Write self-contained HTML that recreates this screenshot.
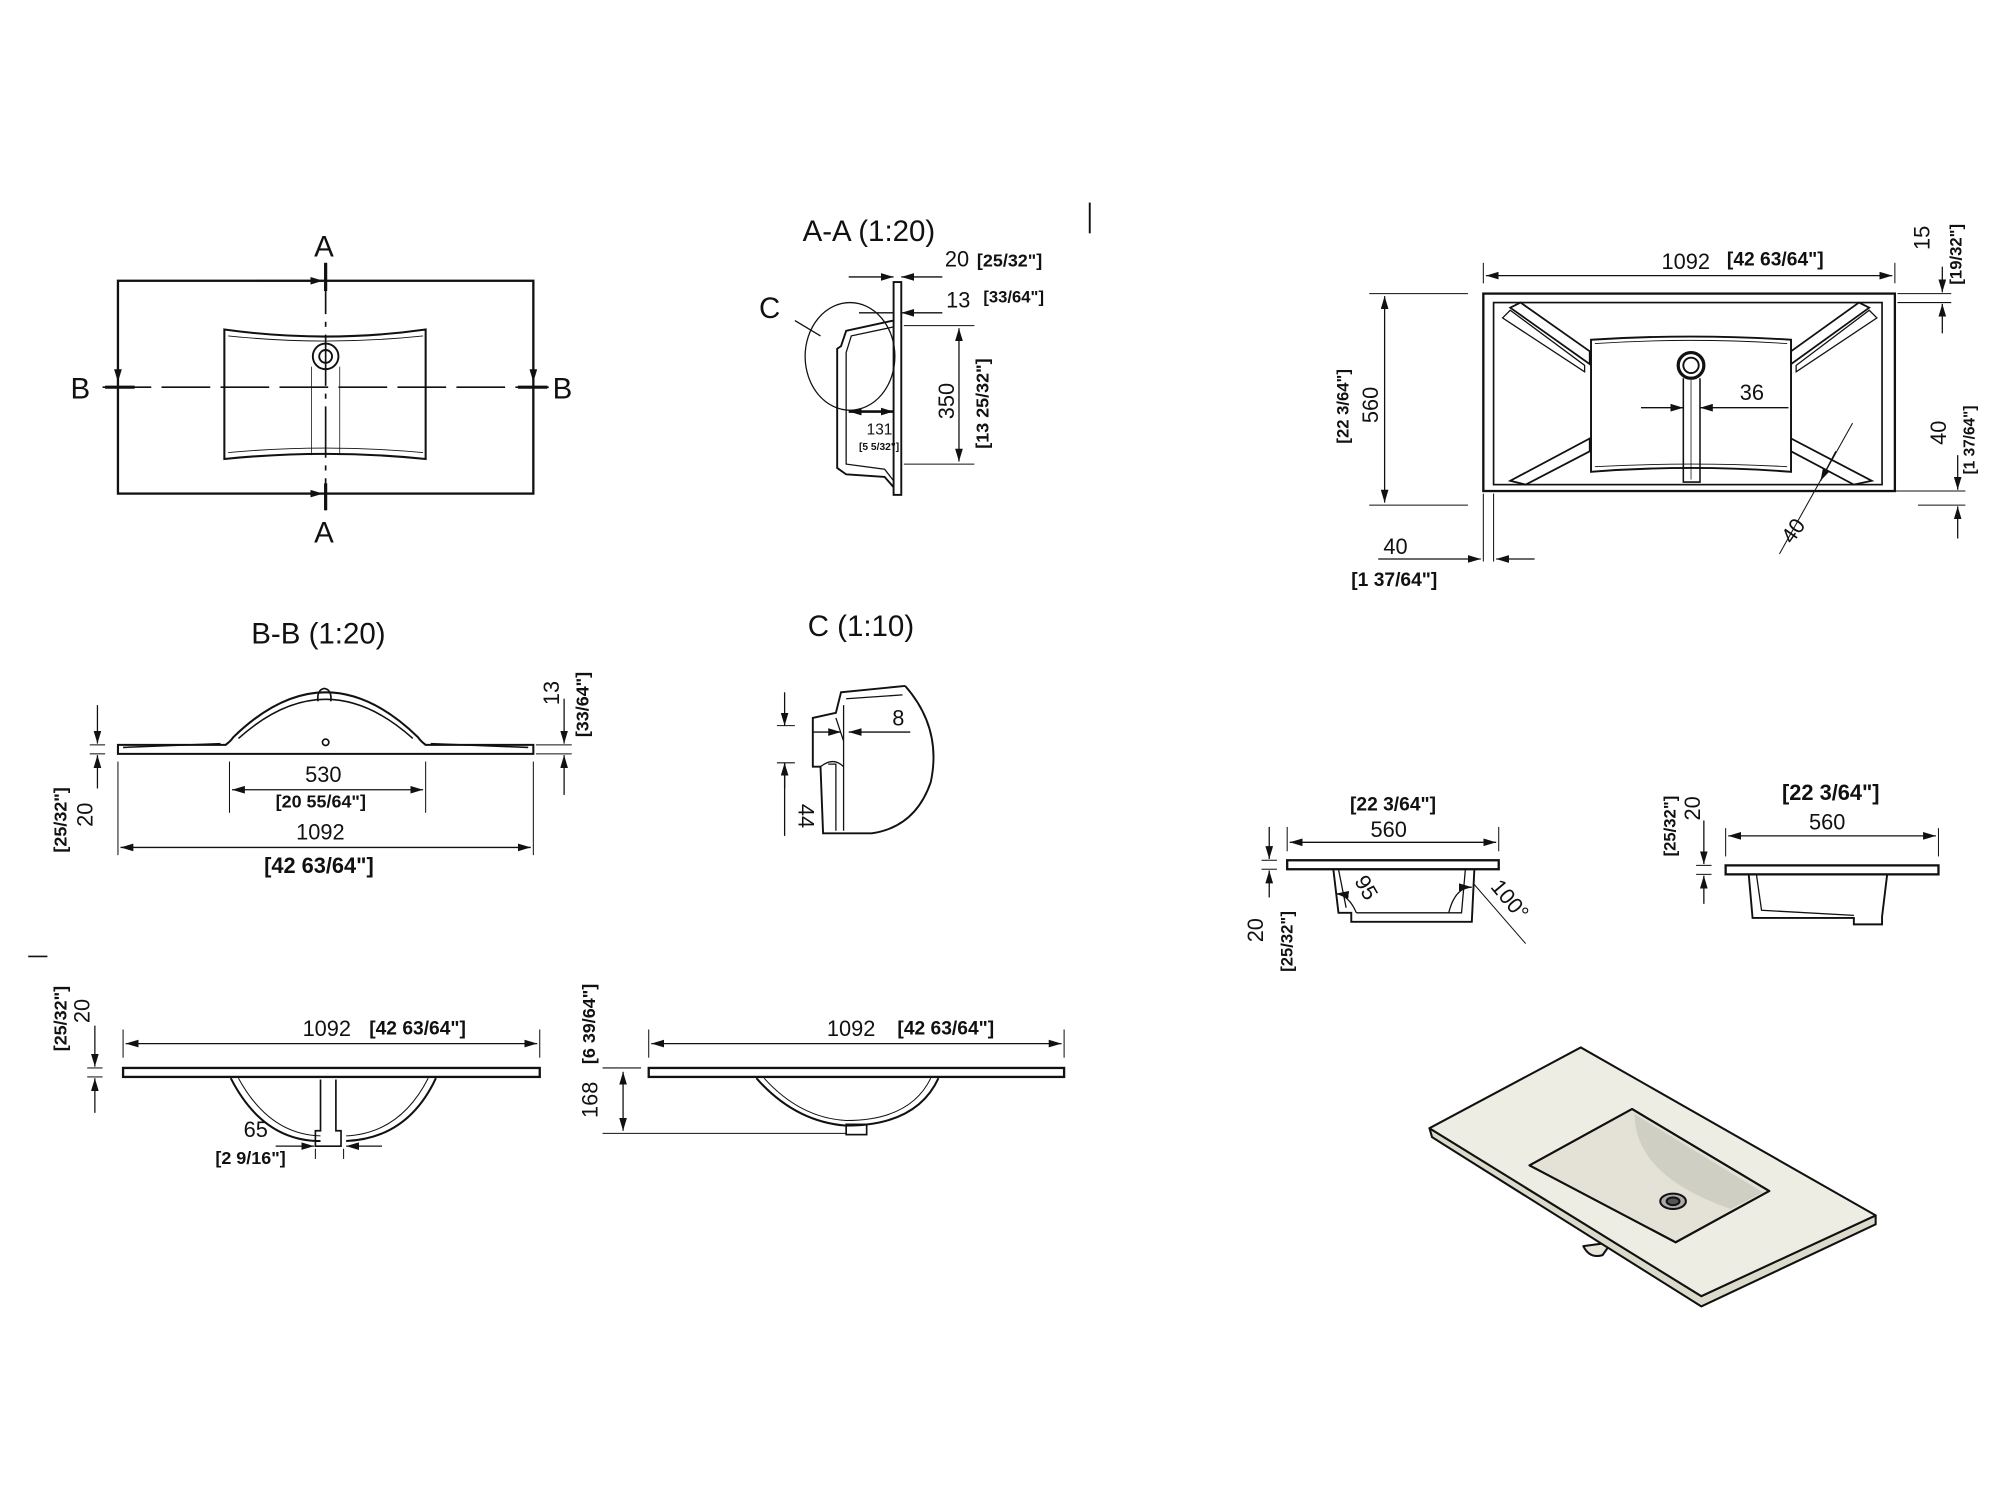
<!DOCTYPE html>
<html><head><meta charset="utf-8"><style>
html,body{margin:0;padding:0;background:#fff;}
svg{display:block}
text{font-family:"Liberation Sans",sans-serif;fill:#111}
.b{font-weight:bold}
</style></head><body>
<svg width="2000" height="1500" viewBox="0 0 1560 1170" xmlns="http://www.w3.org/2000/svg">
<defs>
<marker id="a" viewBox="0 0 10 6" refX="10" refY="3" markerWidth="10" markerHeight="6" orient="auto-start-reverse" markerUnits="userSpaceOnUse"><path d="M0,0L10,3L0,6z" fill="#111"/></marker>
</defs>
<g stroke="#111" fill="none" stroke-width="1.3">

<!-- TOP-LEFT PLAN -->
<rect x="92" y="219" width="324" height="166" stroke-width="1.8"/>
<path d="M175,257 Q254,268 332,257 L332,358 Q254,350 175,358 Z" stroke-width="1.6"/>
<path d="M178,262 Q254,270 330,262 M178,353 Q254,346 330,353" stroke-width="0.7"/>
<line x1="243" y1="286" x2="243" y2="355" stroke-width="0.6"/><line x1="265" y1="286" x2="265" y2="355" stroke-width="0.6"/>
<circle cx="254" cy="278" r="10" stroke-width="1.5"/><circle cx="254" cy="278" r="5" stroke-width="1.5"/>
<line x1="254" y1="205" x2="254" y2="398" stroke-dasharray="40,6,4,6"/>
<line x1="80" y1="302" x2="428" y2="302" stroke-dasharray="38,8"/>
<line x1="82" y1="302" x2="105" y2="302" stroke-width="2.5"/><line x1="404" y1="302" x2="427" y2="302" stroke-width="2.5"/>
<line x1="254" y1="205" x2="254" y2="227" stroke-width="2.5"/><line x1="254" y1="377" x2="254" y2="398" stroke-width="2.5"/>
<line x1="92" y1="219" x2="92" y2="298" marker-end="url(#a)"/>
<line x1="416" y1="219" x2="416" y2="298" marker-end="url(#a)"/>
<line x1="200" y1="219" x2="252" y2="219" marker-end="url(#a)"/>
<line x1="200" y1="385" x2="252" y2="385" marker-end="url(#a)"/>

<!-- A-A SECTION -->
<rect x="697" y="220" width="6" height="166" stroke-width="1.5"/>
<path d="M697,250 L660,258 L656,270 L653,272 L653,365 L660,370 L690,372 L697,380" stroke-width="1.5"/>
<path d="M697,255 L664,262 L660,275 L660,362 L690,366 L697,375" stroke-width="1"/>
<ellipse cx="663" cy="278" rx="35" ry="42" stroke-width="1"/>
<line x1="620" y1="250" x2="640" y2="262" stroke-width="1"/>
<line x1="662" y1="216" x2="697" y2="216" marker-end="url(#a)" stroke-width="1"/>
<line x1="735" y1="216" x2="703" y2="216" marker-end="url(#a)" stroke-width="1"/>
<line x1="670" y1="244" x2="697" y2="244" stroke-width="1"/>
<line x1="735" y1="244" x2="703" y2="244" marker-end="url(#a)" stroke-width="1"/>
<line x1="705" y1="254" x2="760" y2="254" stroke-width="0.8"/><line x1="705" y1="362" x2="760" y2="362" stroke-width="0.8"/>
<line x1="748" y1="256" x2="748" y2="360" marker-start="url(#a)" marker-end="url(#a)" stroke-width="1"/>
<line x1="662" y1="321" x2="697" y2="321" marker-start="url(#a)" marker-end="url(#a)" stroke-width="2"/>
<line x1="850" y1="158" x2="850" y2="182" stroke-width="1.5"/>

<!-- B-B SECTION -->
<path d="M92,581 L176,581 Q180,578 182,575 Q254,505 326,575 Q328,578 332,581 L416,581 L416,588 L92,588 Z" stroke-width="1.6"/>
<path d="M96,583 L172,580 M186,576 Q254,515 322,576 M336,580 L412,583" stroke-width="1.2"/>
<path d="M248,547 Q247,538 253,537 Q259,538 258,547" stroke-width="1.3"/>
<circle cx="254" cy="579" r="2.5"/>
<line x1="179" y1="594" x2="179" y2="634" stroke-width="0.8"/><line x1="332" y1="594" x2="332" y2="634" stroke-width="0.8"/>
<line x1="181" y1="616" x2="330" y2="616" marker-start="url(#a)" marker-end="url(#a)" stroke-width="1"/>
<line x1="92" y1="594" x2="92" y2="667" stroke-width="0.8"/><line x1="416" y1="594" x2="416" y2="667" stroke-width="0.8"/>
<line x1="94" y1="661" x2="414" y2="661" marker-start="url(#a)" marker-end="url(#a)" stroke-width="1"/>
<line x1="76" y1="550" x2="76" y2="580" marker-end="url(#a)" stroke-width="1"/>
<line x1="76" y1="615" x2="76" y2="589" marker-end="url(#a)" stroke-width="1"/>
<line x1="70" y1="581" x2="82" y2="581" stroke-width="0.8"/><line x1="70" y1="588" x2="82" y2="588" stroke-width="0.8"/>
<line x1="440" y1="545" x2="440" y2="580" marker-end="url(#a)" stroke-width="1"/>
<line x1="440" y1="620" x2="440" y2="589" marker-end="url(#a)" stroke-width="1"/>
<line x1="418" y1="581" x2="446" y2="581" stroke-width="0.8"/><line x1="418" y1="588" x2="446" y2="588" stroke-width="0.8"/>

<!-- C DETAIL -->
<path d="M706,535 Q735,568 726,610 Q714,645 680,650 L642,650 L640,598 L634,598 L634,560 L652,556 L656,540 L706,535" stroke-width="1.5"/>
<path d="M660,545 L704,542 M658,550 L658,648 M652,560 L658,578 M646,596 L652,596 L652,648 M640,598 Q650,590 658,598" stroke-width="1"/>
<line x1="612" y1="540" x2="612" y2="566" marker-end="url(#a)" stroke-width="1"/>
<line x1="612" y1="595" x2="612" y2="652" stroke-width="1"/>
<line x1="612" y1="615" x2="612" y2="595" marker-end="url(#a)" stroke-width="1"/>
<line x1="606" y1="566" x2="620" y2="566" stroke-width="0.8"/><line x1="606" y1="595" x2="620" y2="595" stroke-width="0.8"/>
<line x1="634" y1="571" x2="656" y2="571" marker-end="url(#a)" stroke-width="1"/>
<line x1="710" y1="571" x2="662" y2="571" marker-end="url(#a)" stroke-width="1"/>

<!-- BOTTOM FRONT VIEW 1 -->
<rect x="96" y="833" width="325" height="7" stroke-width="1.8"/>
<path d="M180,841 Q205,890 250,890 M340,841 Q318,888 270,890" stroke-width="1.6"/>
<path d="M186,841 Q210,885 250,886 M334,841 Q312,884 270,886" stroke-width="0.8"/>
<path d="M250,842 L250,882 L246,882 L246,894 L266,894 L266,882 L262,882 L262,842" stroke-width="1.3"/>
<line x1="96" y1="825" x2="96" y2="803" stroke-width="0.8"/><line x1="421" y1="825" x2="421" y2="803" stroke-width="0.8"/>
<line x1="98" y1="814" x2="419" y2="814" marker-start="url(#a)" marker-end="url(#a)" stroke-width="1"/>
<line x1="74" y1="800" x2="74" y2="832" marker-end="url(#a)" stroke-width="1"/>
<line x1="74" y1="868" x2="74" y2="841" marker-end="url(#a)" stroke-width="1"/>
<line x1="68" y1="833" x2="80" y2="833" stroke-width="0.8"/><line x1="68" y1="840" x2="80" y2="840" stroke-width="0.8"/>
<line x1="215" y1="894" x2="245" y2="894" marker-end="url(#a)" stroke-width="1"/>
<line x1="298" y1="894" x2="270" y2="894" marker-end="url(#a)" stroke-width="1"/>
<line x1="246" y1="896" x2="246" y2="904" stroke-width="0.8"/><line x1="268" y1="896" x2="268" y2="904" stroke-width="0.8"/>
<line x1="22" y1="746" x2="37" y2="746" stroke-width="1.3"/>

<!-- BOTTOM FRONT VIEW 2 -->
<rect x="506" y="833" width="324" height="7" stroke-width="1.8"/>
<path d="M590,841 Q620,875 660,878 Q715,878 732,841" stroke-width="1.6"/>
<path d="M596,841 Q624,872 660,874 Q710,874 726,841" stroke-width="0.8"/>
<rect x="660" y="877" width="16" height="8" stroke-width="1.3"/>
<line x1="506" y1="825" x2="506" y2="803" stroke-width="0.8"/><line x1="830" y1="825" x2="830" y2="803" stroke-width="0.8"/>
<line x1="508" y1="814" x2="828" y2="814" marker-start="url(#a)" marker-end="url(#a)" stroke-width="1"/>
<line x1="470" y1="833" x2="500" y2="833" stroke-width="0.8"/><line x1="470" y1="884" x2="660" y2="884" stroke-width="0.8"/>
<line x1="486" y1="836" x2="486" y2="882" marker-start="url(#a)" marker-end="url(#a)" stroke-width="1"/>

<!-- RIGHT PLAN -->
<rect x="1157" y="229" width="321" height="154" stroke-width="1.8"/>
<rect x="1165" y="236" width="303" height="142" stroke-width="1.3"/>
<path d="M1241,265 Q1318,260 1397,265 L1397,368 Q1318,362 1241,368 Z" stroke-width="1.5"/>
<path d="M1244,268 Q1318,263 1394,268 M1244,364 Q1318,360 1394,364" stroke-width="0.7"/>
<path d="M1178,240 L1186,236 L1240,274 L1240,284 Z" stroke-width="1.4"/>
<path d="M1172,248 L1178,242 L1236,285 L1236,290 Z" stroke-width="1"/>
<path d="M1178,375 L1240,342 L1240,352 L1190,378 Z" stroke-width="1.4"/>
<path d="M1458,240 L1450,236 L1397,274 L1397,284 Z" stroke-width="1.4"/>
<path d="M1464,248 L1458,242 L1401,285 L1401,290 Z" stroke-width="1"/>
<path d="M1460,375 L1397,342 L1397,352 L1446,378 Z" stroke-width="1.4"/>
<circle cx="1319" cy="285" r="10" stroke-width="2.5"/><circle cx="1319" cy="285" r="6" stroke-width="1.5"/>
<path d="M1313,295 L1313,376 L1326,376 L1326,295" stroke-width="1.2"/><line x1="1319" y1="296" x2="1319" y2="374" stroke-width="0.6"/>
<line x1="1157" y1="221" x2="1157" y2="205" stroke-width="0.8"/><line x1="1478" y1="221" x2="1478" y2="205" stroke-width="0.8"/>
<line x1="1159" y1="215" x2="1476" y2="215" marker-start="url(#a)" marker-end="url(#a)" stroke-width="1"/>
<line x1="1068" y1="229" x2="1145" y2="229" stroke-width="0.8"/><line x1="1068" y1="394" x2="1145" y2="394" stroke-width="0.8"/>
<line x1="1080" y1="231" x2="1080" y2="392" marker-start="url(#a)" marker-end="url(#a)" stroke-width="1"/>
<line x1="1280" y1="318" x2="1313" y2="318" marker-end="url(#a)" stroke-width="1"/>
<line x1="1395" y1="318" x2="1326" y2="318" marker-end="url(#a)" stroke-width="1"/>
<line x1="1480" y1="229" x2="1522" y2="229" stroke-width="0.8"/><line x1="1480" y1="236" x2="1522" y2="236" stroke-width="0.8"/>
<line x1="1515" y1="208" x2="1515" y2="228" marker-end="url(#a)" stroke-width="1"/>
<line x1="1515" y1="260" x2="1515" y2="237" marker-end="url(#a)" stroke-width="1"/>
<line x1="1478" y1="383" x2="1533" y2="383" stroke-width="0.8"/><line x1="1496" y1="394" x2="1533" y2="394" stroke-width="0.8"/>
<line x1="1527" y1="355" x2="1527" y2="382" marker-end="url(#a)" stroke-width="1"/>
<line x1="1527" y1="420" x2="1527" y2="395" marker-end="url(#a)" stroke-width="1"/>
<line x1="1157" y1="385" x2="1157" y2="438" stroke-width="0.8"/><line x1="1165" y1="385" x2="1165" y2="438" stroke-width="0.8"/>
<line x1="1075" y1="436" x2="1155" y2="436" marker-end="url(#a)" stroke-width="1"/>
<line x1="1197" y1="436" x2="1167" y2="436" marker-end="url(#a)" stroke-width="1"/>
<line x1="1445" y1="330" x2="1388" y2="432" stroke-width="0.8"/>
<line x1="1432" y1="352" x2="1420" y2="375" marker-end="url(#a)" stroke-width="1"/>

<!-- SIDE VIEW 1 -->
<rect x="1004" y="671" width="165" height="7" stroke-width="1.8"/>
<path d="M1040,678 L1044,712 L1054,712 L1054,719 L1148,719 L1150,678" stroke-width="1.5"/>
<path d="M1044,678 L1050,708 M1143,678 L1140,712 L1058,712" stroke-width="1"/>
<line x1="1004" y1="664" x2="1004" y2="645" stroke-width="0.8"/><line x1="1169" y1="664" x2="1169" y2="645" stroke-width="0.8"/>
<line x1="1006" y1="657" x2="1167" y2="657" marker-start="url(#a)" marker-end="url(#a)" stroke-width="1"/>
<line x1="990" y1="645" x2="990" y2="670" marker-end="url(#a)" stroke-width="1"/>
<line x1="990" y1="700" x2="990" y2="679" marker-end="url(#a)" stroke-width="1"/>
<line x1="984" y1="671" x2="996" y2="671" stroke-width="0.8"/><line x1="984" y1="678" x2="996" y2="678" stroke-width="0.8"/>
<path d="M1042,697 Q1052,698 1058,712" stroke-width="1" marker-start="url(#a)"/>
<path d="M1148,692 Q1135,692 1130,712" stroke-width="1" marker-start="url(#a)"/>
<line x1="1150" y1="690" x2="1190" y2="736" stroke-width="0.8"/>
<!-- SIDE VIEW 2 -->
<rect x="1346" y="675" width="166" height="7" stroke-width="1.8"/>
<path d="M1364,682 L1367,716 L1446,716 L1446,721 L1468,721 L1468,715 L1472,682" stroke-width="1.5"/>
<path d="M1370,682 L1374,710 L1446,714" stroke-width="1"/>
<line x1="1346" y1="668" x2="1346" y2="646" stroke-width="0.8"/><line x1="1512" y1="668" x2="1512" y2="646" stroke-width="0.8"/>
<line x1="1348" y1="652" x2="1510" y2="652" marker-start="url(#a)" marker-end="url(#a)" stroke-width="1"/>
<line x1="1329" y1="640" x2="1329" y2="674" marker-end="url(#a)" stroke-width="1"/>
<line x1="1329" y1="705" x2="1329" y2="683" marker-end="url(#a)" stroke-width="1"/>
<line x1="1323" y1="675" x2="1335" y2="675" stroke-width="0.8"/><line x1="1323" y1="682" x2="1335" y2="682" stroke-width="0.8"/>
</g>

<!-- ISO -->
<g stroke="#111" stroke-width="1.6" stroke-linejoin="round" transform="translate(-5,-3)">
<path d="M1240,975 Q1245,985 1255,982 L1262,972 Z" fill="#e8e6da"/>
<polygon points="1120,883 1122,890 1332,1022 1468,958 1468,951 1332,1014" fill="#dcdacb"/>
<polygon points="1238,820 1120,883 1332,1014 1468,951" fill="#eeede3"/>
<polygon points="1278,868 1198,912 1312,972 1385,932" fill="#e4e2d6"/>
<path d="M1280,872 Q1280,920 1355,946 L1380,933 Z" fill="#d0cfc4" stroke="none"/>
<polygon points="1278,868 1198,912 1312,972 1385,932" fill="none"/>
<ellipse cx="1310" cy="940" rx="10" ry="6" fill="#aaa"/>
<ellipse cx="1310" cy="940" rx="5" ry="3" fill="#555"/>
</g>

<g font-size="23">
<text x="245" y="200">A</text><text x="245" y="423">A</text>
<text x="55" y="311">B</text><text x="431" y="311">B</text>
<text x="592" y="248">C</text>
<text x="626" y="188">A-A (1:20)</text>
<text x="196" y="502">B-B (1:20)</text>
<text x="630" y="496">C (1:10)</text>
</g>
<g font-size="17">
<text x="737" y="208">20</text><text x="762" y="208" class="b" font-size="14">[25/32"]</text>
<text x="738" y="240">13</text><text x="767" y="236" class="b" font-size="13">[33/64"]</text>
<text x="676" y="339" font-size="12">131</text><text x="670" y="351" font-size="8" class="b">[5 5/32"]</text>
<text transform="translate(744,327) rotate(-90)">350</text>
<text transform="translate(771,350) rotate(-90)" class="b" font-size="14">[13 25/32"]</text>
<text x="238" y="610">530</text><text x="215" y="630" class="b" font-size="14">[20 55/64"]</text>
<text x="231" y="655">1092</text><text x="206" y="681" class="b">[42 63/64"]</text>
<text transform="translate(72,645) rotate(-90)">20</text>
<text transform="translate(52,665) rotate(-90)" class="b" font-size="14">[25/32"]</text>
<text transform="translate(436,550) rotate(-90)">13</text>
<text transform="translate(459,575) rotate(-90)" class="b" font-size="14">[33/64"]</text>
<text x="696" y="566">8</text>
<text transform="translate(623,627) rotate(90)">44</text>
<text x="236" y="808">1092</text><text x="288" y="807" class="b" font-size="15">[42 63/64"]</text>
<text x="645" y="808">1092</text><text x="700" y="807" class="b" font-size="15">[42 63/64"]</text>
<text transform="translate(70,798) rotate(-90)">20</text>
<text transform="translate(52,820) rotate(-90)" class="b" font-size="14">[25/32"]</text>
<text transform="translate(466,872) rotate(-90)">168</text>
<text transform="translate(464,830) rotate(-90)" class="b" font-size="14">[6 39/64"]</text>
<text x="190" y="887">65</text><text x="168" y="908" class="b" font-size="14">[2 9/16"]</text>
<text x="1296" y="210">1092</text><text x="1347" y="207" class="b" font-size="15">[42 63/64"]</text>
<text transform="translate(1075,330) rotate(-90)">560</text>
<text transform="translate(1052,346) rotate(-90)" class="b" font-size="13">[22 3/64"]</text>
<text x="1357" y="312">36</text>
<text transform="translate(1505,195) rotate(-90)">15</text>
<text transform="translate(1530,222) rotate(-90)" class="b" font-size="13">[19/32"]</text>
<text transform="translate(1518,347) rotate(-90)">40</text>
<text transform="translate(1540,370) rotate(-90)" class="b" font-size="12">[1 37/64"]</text>
<text x="1079" y="432">40</text><text x="1054" y="457" class="b" font-size="15">[1 37/64"]</text>
<text transform="translate(1398,425) rotate(-55)">40</text>
<text x="1053" y="632" class="b" font-size="15">[22 3/64"]</text><text x="1069" y="653">560</text>
<text transform="translate(985,735) rotate(-90)">20</text>
<text transform="translate(1008,758) rotate(-90)" class="b" font-size="13">[25/32"]</text>
<text transform="translate(1056,687) rotate(60)">95</text>
<text transform="translate(1162,692) rotate(50)">100°</text>
<text x="1390" y="624" class="b">[22 3/64"]</text><text x="1411" y="647">560</text>
<text transform="translate(1326,640) rotate(-90)">20</text>
<text transform="translate(1307,668) rotate(-90)" class="b" font-size="13">[25/32"]</text>
</g>
</svg>
</body></html>
